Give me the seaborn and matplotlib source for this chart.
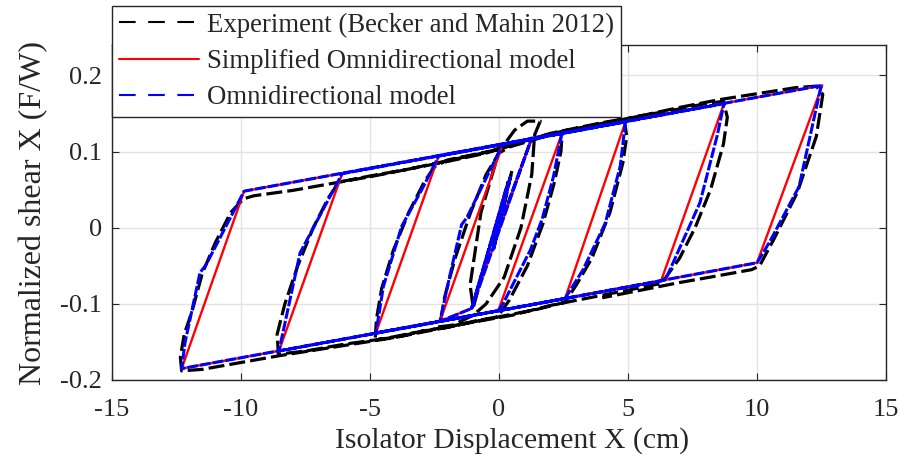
import numpy as np
import pandas as pd
import matplotlib
matplotlib.use("Agg")
import matplotlib.pyplot as plt
from matplotlib.lines import Line2D
import seaborn as sns

# ---------------- data ----------------
# Simplified Omnidirectional model (red)
red_x = [0.00, 1.27, -1.06, 0.43, -0.21, 0.30, -1.06, -2.29, 0.15, 2.44, -0.03,
         -4.77, -2.34, 4.90, 2.56, -8.53, -6.08, 8.72, 6.28, -12.30, -9.88,
         12.53, 10.00, 0.00]
red_y = [0.000, 0.118, -0.106, 0.066, -0.029, 0.054, -0.106, -0.123, 0.110, 0.124, -0.109,
         -0.138, 0.094, 0.139, -0.093, -0.162, 0.071, 0.163, -0.070, -0.185, 0.048,
         0.187, -0.046, -0.109]

# Omnidirectional model (blue)
blue_x = [0.00, 1.27, -1.06, 0.43, -0.21, 0.30, -1.06, -2.29,
          -1.90, -1.45, -1.25, 0.15, 2.44,
          2.11, 1.67, 1.22, 0.17, -0.03, -4.77,
          -4.48, -3.77, -2.93, -2.34, 4.90,
          4.70, 4.12, 3.26, 2.56, -8.53,
          -7.71, -7.60, -6.08, 8.72,
          8.45, 7.79, 6.51, 6.28, -12.30,
          -12.17, -11.59, -11.36, -9.88, 12.53,
          12.47, 11.63, 10.50, 10.00, 0.00]
blue_y = [0.000, 0.118, -0.106, 0.066, -0.029, 0.054, -0.106, -0.123,
          -0.062, 0.004, 0.013, 0.110, 0.124,
          0.067, 0.011, -0.029, -0.099, -0.109, -0.138,
          -0.077, 0.002, 0.054, 0.094, 0.139,
          0.081, 0.006, -0.055, -0.093, -0.162,
          -0.033, -0.026, 0.071, 0.163,
          0.120, 0.033, -0.064, -0.070, -0.185,
          -0.151, -0.059, -0.049, 0.048, 0.187,
          0.184, 0.054, -0.018, -0.046, -0.109]

# Experiment (Becker and Mahin 2012) (black)
exp_x = [0.00, 0.50, -0.20, 0.35, -1.00, -1.12, -0.70, 0.00, 0.60, 1.10, 1.60,
         1.38, 1.27, 0.85, 0.20, -0.50, -1.00, -1.80, -2.30,
         -2.10, -1.70, -1.10, -0.50, 0.00, 0.40, 1.20, 2.00, 2.45,
         2.40, 2.15, 1.70, 1.10, 0.40, -0.05,
         -1.00, -2.00, -3.00, -4.00, -4.80,
         -4.75, -4.55, -4.10, -3.50, -2.90, -2.50,
         -2.00, -1.00, 0.00, 1.00, 2.00, 3.00, 4.00, 4.85,
         4.95, 4.80, 4.30, 3.60, 3.00, 2.55,
         1.50, 0.00, -1.50, -3.00, -4.50, -6.00, -7.50, -8.55,
         -8.60, -8.30, -7.80, -7.20, -6.60, -6.20,
         -5.00, -3.50, -2.00, -0.50, 1.00, 2.50, 4.00, 5.50, 7.00, 8.00, 8.70,
         8.85, 8.70, 8.20, 7.60, 7.00, 6.30,
         5.00, 3.50, 2.00, 0.50, -1.00, -2.50, -4.00, -5.50, -7.00, -8.50, -10.00, -11.50, -12.30,
         -12.35, -12.20, -11.90, -11.50, -11.00, -10.40, -9.90, -9.50,
         -8.00, -6.50, -5.00, -3.50, -2.00, -0.50, 1.00, 2.50, 4.00, 5.50, 7.00, 8.50, 10.00, 11.50, 12.30,
         12.55, 12.50, 12.30, 11.56, 10.64, 10.10, 9.80,
         8.50, 7.00, 5.50, 4.00]
exp_y = [0.000, 0.075, -0.025, 0.060, -0.105, -0.075, 0.020, 0.100, 0.128, 0.140, 0.140,
         0.122, 0.070, 0.000, -0.065, -0.100, -0.115, -0.128, -0.130,
         -0.090, -0.040, 0.020, 0.070, 0.098, 0.106, 0.114, 0.122, 0.125,
         0.100, 0.060, 0.005, -0.050, -0.095, -0.117,
         -0.123, -0.131, -0.136, -0.144, -0.147,
         -0.120, -0.080, -0.030, 0.020, 0.060, 0.080,
         0.089, 0.096, 0.103, 0.114, 0.124, 0.131, 0.138, 0.143,
         0.120, 0.085, 0.020, -0.040, -0.075, -0.098,
         -0.107, -0.117, -0.127, -0.136, -0.146, -0.153, -0.162, -0.166,
         -0.140, -0.100, -0.050, 0.000, 0.040, 0.060,
         0.068, 0.077, 0.087, 0.098, 0.114, 0.126, 0.136, 0.147, 0.156, 0.163, 0.166,
         0.145, 0.110, 0.050, 0.000, -0.040, -0.073,
         -0.082, -0.092, -0.102, -0.115, -0.124, -0.134, -0.144, -0.152, -0.160, -0.168, -0.177, -0.186, -0.188,
         -0.170, -0.140, -0.110, -0.060, -0.020, 0.020, 0.038, 0.042,
         0.049, 0.058, 0.067, 0.077, 0.088, 0.099, 0.115, 0.127, 0.137, 0.147, 0.158, 0.168, 0.176, 0.184, 0.186,
         0.175, 0.164, 0.120, 0.046, -0.016, -0.050, -0.055,
         -0.063, -0.072, -0.082, -0.092]

series_labels = ["Experiment (Becker and Mahin 2012)",
                 "Simplified Omnidirectional model",
                 "Omnidirectional model"]
x_ticks = [-15, -10, -5, 0, 5, 10, 15]
y_ticks = [-0.2, -0.1, 0, 0.1, 0.2]
y_tick_labels = ["-0.2", "-0.1", "0", "0.1", "0.2"]
x_label = "Isolator Displacement X (cm)"
y_label = "Normalized shear X (F/W)"

# ---------------- figure ----------------
sns.set_theme(style="whitegrid")
plt.rcParams["font.family"] = ["Liberation Serif", "DejaVu Serif"]
plt.rcParams["axes.unicode_minus"] = False

W, H = 907, 471
fig = plt.figure(figsize=(W / 100, H / 100), dpi=100)
ax = fig.add_axes([112 / W, 1 - 380 / H, (886 - 112) / W, (380 - 45) / H])

def frame(xs, ys):
    return pd.DataFrame({"x": xs, "y": ys, "i": np.arange(len(xs))})

sns.lineplot(data=frame(exp_x, exp_y), x="x", y="y", sort=False, estimator=None,
             color="black", lw=2.3, linestyle=(0, (5, 1.6)), ax=ax, zorder=2)
sns.lineplot(data=frame(red_x, red_y), x="x", y="y", sort=False, estimator=None,
             color="#ff0000", lw=1.7, ax=ax, zorder=3)
sns.lineplot(data=frame(blue_x, blue_y), x="x", y="y", sort=False, estimator=None,
             color="#0000ff", lw=2.2, linestyle=(0, (3.5, 0.7)), ax=ax, zorder=4)

ax.set_xlim(-15, 15)
ax.set_ylim(-0.2, 0.24)
ax.set_xticks(x_ticks)
ax.set_xticklabels([str(t) for t in x_ticks])
ax.set_yticks(y_ticks)
ax.set_yticklabels(y_tick_labels)

ax.grid(True, color="#e3e3e3", lw=1.0)
ax.set_axisbelow(True)
for s in ax.spines.values():
    s.set_visible(True)
    s.set_color("#262626")
    s.set_linewidth(1.0)
ax.set_facecolor("white")
ax.tick_params(direction="in", length=5, width=0.8, color="#262626",
               top=True, right=True, bottom=True, left=True,
               labelsize=19, labelcolor="#262626")
ax.tick_params(axis="y", pad=7)
ax.tick_params(axis="x", pad=14)

ax.set_xlabel(x_label, fontsize=21.4, color="#262626")
ax.xaxis.set_label_coords((512 - 112) / 774, (380 - 427) / 335)
ax.set_ylabel(y_label, fontsize=23, color="#262626", labelpad=9)

handles = [
    Line2D([], [], color="black", lw=1.5, linestyle=(0, (8, 6))),
    Line2D([], [], color="#ff0000", lw=1.5),
    Line2D([], [], color="#0000ff", lw=1.5, linestyle=(0, (8, 6))),
]
leg = ax.legend(handles, series_labels, loc="upper left",
                bbox_to_anchor=(112 / W, 1 - 6 / H), bbox_transform=fig.transFigure,
                fontsize=19.3, frameon=True, fancybox=False, framealpha=1,
                edgecolor="#262626", borderaxespad=0, borderpad=0.25,
                handlelength=3.0, handletextpad=0.3, labelspacing=0.42)
leg.get_frame().set_linewidth(1.0)
leg.set_zorder(10)

fig.savefig("out.png", dpi=100)
